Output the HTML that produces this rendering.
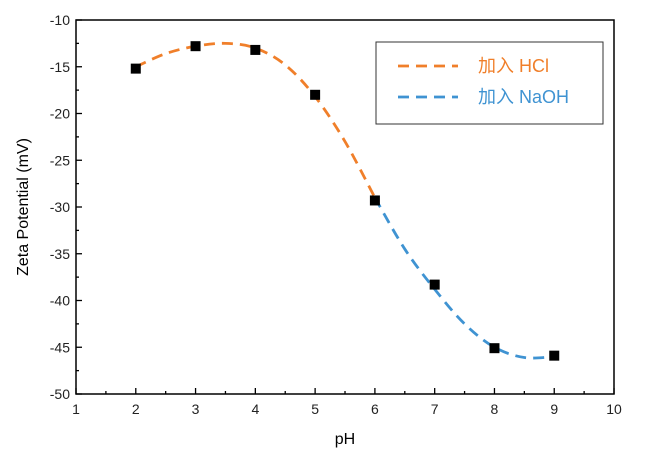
<!DOCTYPE html><html><head><meta charset="utf-8"><style>body{margin:0;background:#fff}svg{display:block}text{font-family:"Liberation Sans","Noto Sans CJK SC",sans-serif}</style></head><body>
<svg id="s" width="662" height="462" xmlns="http://www.w3.org/2000/svg">
<rect x="76" y="20" width="538" height="374" fill="none" stroke="#000" stroke-width="1.5"/>
<g id="t" stroke="#000" stroke-width="1.3"></g>
<g id="l" font-size="14" fill="#222"></g>
<path id="o" fill="none" stroke="#f07f2a" stroke-width="2.8" stroke-dasharray="11,7"/>
<path id="b" fill="none" stroke="#3f93d2" stroke-width="2.8" stroke-dasharray="11,7"/>
<g id="p" fill="#000"></g>
<rect x="376" y="42" width="227" height="82" fill="#fff" stroke="#333" stroke-width="1"/>
<line x1="398" y1="66" x2="458" y2="66" stroke="#f07f2a" stroke-width="2.8" stroke-dasharray="11,7"/>
<line x1="398" y1="97" x2="458" y2="97" stroke="#3f93d2" stroke-width="2.8" stroke-dasharray="11,7"/>
<text x="478" y="72" font-size="18" fill="#f07f2a">加入 HCl</text>
<text x="478" y="103" font-size="18" fill="#3f93d2">加入 NaOH</text>
<text x="345" y="444" font-size="16" text-anchor="middle" fill="#000">pH</text>
<text transform="translate(28,207) rotate(-90)" font-size="16" text-anchor="middle" fill="#000">Zeta Potential (mV)</text>
</svg>
<script>
var X=p=>76+(p-1)*59.78,Y=v=>20+(-10-v)*9.35,ns="http://www.w3.org/2000/svg";
function el(g,n,a,tx){var e=document.createElementNS(ns,n);for(var k in a)e.setAttribute(k,a[k]);if(tx)e.textContent=tx;document.getElementById(g).appendChild(e);}
for(var i=1;i<=10;i++){el('t','line',{x1:X(i),y1:394,x2:X(i),y2:388});el('l','text',{x:X(i),y:414,'text-anchor':'middle'},i);
if(i<10){el('t','line',{x1:X(i+.5),y1:394,x2:X(i+.5),y2:391});}}
for(var v=-10;v>=-50;v-=5){el('t','line',{x1:76,y1:Y(v),x2:82,y2:Y(v)});el('l','text',{x:70,y:Y(v)+5,'text-anchor':'end'},v);
if(v>-50)el('t','line',{x1:76,y1:Y(v-2.5),x2:79,y2:Y(v-2.5)});}
var c=[[2,-15],[2.5,-13.6],[3,-12.8],[3.5,-12.5],[4,-13.0],[4.5,-14.8],[5,-18.2],[5.5,-23.0],[6,-29.0],[6.5,-34.5],[7,-38.8],[7.5,-42.5],[8,-45.0],[8.5,-46.1],[9,-46.0]];
function path(a){var P=a.map(q=>[X(q[0]),Y(q[1])]),d="M"+P[0];for(var i=0;i<P.length-1;i++){var p0=P[i-1]||P[i],p1=P[i],p2=P[i+1],p3=P[i+2]||p2;
d+=" C"+(p1[0]+(p2[0]-p0[0])/6)+","+(p1[1]+(p2[1]-p0[1])/6)+" "+(p2[0]-(p3[0]-p1[0])/6)+","+(p2[1]-(p3[1]-p1[1])/6)+" "+p2;}return d;}
document.getElementById('o').setAttribute('d',path(c.slice(0,9)));
document.getElementById('b').setAttribute('d',path(c.slice(8)));
[[2,-15.2],[3,-12.8],[4,-13.2],[5,-18],[6,-29.3],[7,-38.3],[8,-45.1],[9,-45.9]].forEach(q=>el('p','rect',{x:X(q[0])-5,y:Y(q[1])-5,width:10,height:10}));
</script></body></html>
